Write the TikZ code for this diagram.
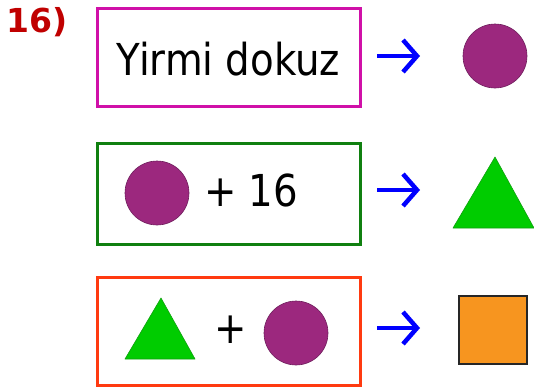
\documentclass[tikz,border=0pt]{standalone}
\usepackage{fontspec}
\newfontfamily\tfont{DejaVu Sans}[FakeStretch=0.88]
\newfontfamily\bfontx{DejaVu Sans Bold}
\usetikzlibrary{arrows.meta}
\definecolor{pinkb}{HTML}{D010A8}
\definecolor{greenb}{HTML}{108010}
\definecolor{redb}{HTML}{FF3A10}
\definecolor{purp}{HTML}{9C287E}
\definecolor{purpd}{HTML}{6E1E5C}
\definecolor{trig}{HTML}{00CC00}
\definecolor{trigd}{HTML}{10A010}
\definecolor{orng}{HTML}{F7951F}
\definecolor{numred}{HTML}{C00000}
\tikzset{
  framebox/.style={draw, line width=3pt, minimum width=263pt, inner sep=0pt},
  dot/.style={circle, fill=purp, draw=purpd, line width=0.6pt, minimum size=64pt, inner sep=0pt},
  trg/.style={fill=trig, draw=trigd, line width=0.6pt, line join=round},
  sq/.style={rectangle, fill=orng, draw=black!85, line width=2pt, minimum size=68pt, inner sep=0pt},
  blarrow/.style={draw=blue, line width=4.5pt, -{Straight Barb[length=14pt, width=32pt, line width=4.5pt]}},
  txt/.style={font=\tfont\fontsize{44}{50}\selectfont, inner sep=0pt, anchor=base west}
}
\begin{document}
\begin{tikzpicture}[x=1pt, y=-1pt]
\useasboundingbox (0,0) rectangle (534,389);
% label
\node[font=\bfontx\fontsize{33}{36}\selectfont, text=numred, anchor=base west, inner sep=0pt] (num) at (6,32) {16)};
% boxes
\node[framebox, draw=pinkb, minimum height=98pt] (b1) at (228.5,57.5) {};
\node[framebox, draw=greenb, minimum height=101pt] (b2) at (228.5,193.5) {};
\node[framebox, draw=redb, minimum height=108pt] (b3) at (228.5,331.5) {};
% row 1
\node[font=\tfont\fontsize{44}{50}\selectfont, inner sep=0pt, anchor=base] (t1) at (228.5,75) {Yirmi dokuz};
\node[dot] (c1) at (495,56) {};
% row 2
\node[dot] (c2) at (157,193) {};
\node[txt] (t2) at (204,206) {+ 16};
\path[trg] (453,228) -- (495,157) -- (534,228) -- cycle;
% row 3
\path[trg] (125,359) -- (161,298) -- (195,359) -- cycle;
\node[txt] (t3) at (214,343) {+};
\node[dot] (c3) at (296,333) {};
\node[sq] (s3) at (493,330) {};
% arrows
\coordinate (a1s) at (377,56);  \coordinate (a1e) at (420,56);
\coordinate (a2s) at (377,190); \coordinate (a2e) at (420,190);
\coordinate (a3s) at (377,328); \coordinate (a3e) at (420,328);
\draw[blarrow] (a1s) -- (a1e);
\draw[blarrow] (a2s) -- (a2e);
\draw[blarrow] (a3s) -- (a3e);
\end{tikzpicture}
\end{document}
